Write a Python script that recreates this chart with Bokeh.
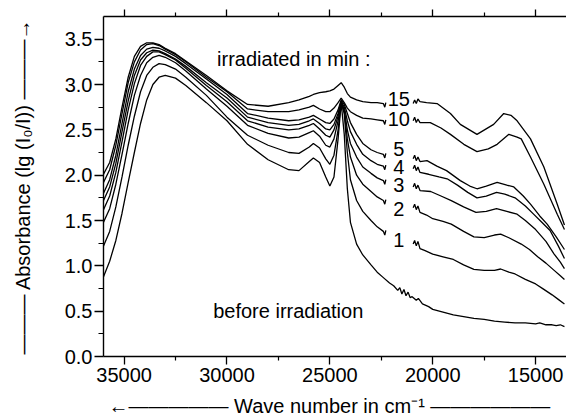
import math
from bokeh.plotting import figure
from bokeh.models import (Range1d, FixedTicker, LinearAxis, Label,
                          PrintfTickFormatter, BasicTickFormatter, CustomJSTickFormatter)
from bokeh.core.properties import value
from bokeh.embed import file_html
from bokeh.resources import INLINE

FONT = "Liberation Sans"

# ---------------- data ----------------
WN_LEFT = [36000, 35700, 35400, 35100, 34800, 34500, 34200, 33900, 33600, 33300,
           33000, 32500, 32000, 31000, 30000, 29000, 28000, 27000, 26500, 26000,
           25800, 25500, 25200, 25000, 24800, 24600, 24450, 24300, 24150, 24000,
           23700, 23400, 23000, 22700, 22400, 22330, 22280]

A1_LEFT = [1.22, 1.38, 1.65, 1.98, 2.33, 2.65, 2.92, 3.10, 3.19, 3.23,
           3.22, 3.17, 3.08, 2.88, 2.64, 2.44, 2.33, 2.25, 2.24, 2.31,
           2.35, 2.30, 2.18, 2.12, 2.22, 2.50, 2.80, 2.68, 2.25, 1.95,
           1.72, 1.60, 1.50, 1.43, 1.38, 1.34, 1.39]
A2_LEFT = [1.48, 1.63, 1.90, 2.23, 2.57, 2.88, 3.10, 3.24, 3.30, 3.32,
           3.30, 3.24, 3.15, 2.95, 2.76, 2.55, 2.46, 2.41, 2.42, 2.47,
           2.49, 2.43, 2.33, 2.31, 2.40, 2.60, 2.80, 2.70, 2.40, 2.20,
           2.00, 1.90, 1.82, 1.76, 1.72, 1.68, 1.73]
A3_LEFT = [1.62, 1.77, 2.03, 2.37, 2.72, 3.01, 3.21, 3.31, 3.36, 3.36,
           3.33, 3.27, 3.18, 2.99, 2.81, 2.60, 2.53, 2.50, 2.51, 2.55,
           2.57, 2.51, 2.44, 2.42, 2.50, 2.65, 2.81, 2.72, 2.50, 2.35,
           2.20, 2.09, 2.02, 1.97, 1.94, 1.90, 1.95]
A4_LEFT = [1.72, 1.87, 2.13, 2.48, 2.82, 3.10, 3.27, 3.35, 3.38, 3.37,
           3.34, 3.28, 3.20, 3.02, 2.85, 2.64, 2.58, 2.55, 2.56, 2.60,
           2.62, 2.57, 2.51, 2.50, 2.56, 2.68, 2.82, 2.75, 2.60, 2.48,
           2.34, 2.23, 2.16, 2.12, 2.10, 2.06, 2.11]
A5_LEFT = [1.80, 1.95, 2.22, 2.57, 2.92, 3.17, 3.32, 3.39, 3.41, 3.40,
           3.37, 3.31, 3.23, 3.06, 2.89, 2.68, 2.63, 2.60, 2.61, 2.64,
           2.66, 2.62, 2.58, 2.57, 2.62, 2.72, 2.83, 2.78, 2.68, 2.58,
           2.45, 2.35, 2.28, 2.25, 2.23, 2.19, 2.24]
A10_LEFT = [1.92, 2.06, 2.33, 2.68, 3.02, 3.25, 3.38, 3.44, 3.45, 3.43,
            3.39, 3.33, 3.25, 3.08, 2.92, 2.73, 2.70, 2.70, 2.72, 2.75,
            2.77, 2.73, 2.70, 2.70, 2.74, 2.80, 2.85, 2.80, 2.74, 2.70,
            2.66, 2.63, 2.62, 2.61, 2.60, 2.56, 2.61]
A15_LEFT = [2.01, 2.14, 2.40, 2.75, 3.08, 3.31, 3.42, 3.46, 3.46, 3.44,
            3.40, 3.34, 3.26, 3.10, 2.93, 2.78, 2.76, 2.80, 2.83, 2.87,
            2.89, 2.91, 2.92, 2.93, 2.95, 2.99, 3.02, 2.97, 2.90, 2.86,
            2.83, 2.81, 2.80, 2.80, 2.79, 2.75, 2.80]

# before irradiation (continuous)
WN0 = [36000, 35700, 35400, 35100, 34800, 34500, 34200, 33900, 33600, 33300,
       33000, 32500, 32000, 31000, 30000, 29000, 28000, 27000, 26500, 26000,
       25800, 25500, 25200, 25000, 24800, 24600, 24450, 24300, 24150, 24000,
       23700, 23400, 23000, 22700, 22400, 22100, 21900, 21700, 21600, 21500,
       21400, 21300, 21200, 21100, 21000, 20800, 20700, 20500, 20200, 20000,
       19500, 19000, 18500, 18000, 17500, 17000, 16500, 16000, 15500, 15000,
       14800, 14500, 14200, 14000, 13800, 13600]
A0 = [0.88, 1.05, 1.28, 1.58, 1.92, 2.25, 2.57, 2.83, 3.00, 3.08,
      3.10, 3.07, 2.99, 2.80, 2.60, 2.34, 2.17, 2.06, 2.05, 2.15,
      2.19, 2.14, 1.98, 1.88, 1.98, 2.40, 2.80, 2.45, 1.85, 1.48,
      1.24, 1.12, 1.01, 0.93, 0.87, 0.81, 0.78, 0.73, 0.76, 0.69,
      0.74, 0.67, 0.71, 0.65, 0.66, 0.62, 0.64, 0.58, 0.55, 0.52,
      0.49, 0.46, 0.44, 0.42, 0.41, 0.39, 0.38, 0.37, 0.37, 0.36,
      0.37, 0.35, 0.35, 0.34, 0.35, 0.33]

R1_WN = [20950, 20880, 20800, 20720, 20620, 20400, 20000, 19500, 19000, 18500, 18000,
         17500, 17000, 16700, 16300, 16000, 15500, 15000, 14600, 14200, 13900, 13600]
R1_A = [1.24, 1.28, 1.22, 1.27, 1.19, 1.17, 1.13, 1.10, 1.07, 1.01, 0.96,
        0.95, 0.95, 0.965, 0.93, 0.91, 0.85, 0.80, 0.74, 0.68, 0.63, 0.58]
R2_WN = [20950, 20880, 20800, 20720, 20620, 20300, 20000, 19500, 19100, 18500, 18000,
         17500, 17000, 16700, 16300, 15700, 15300, 14900, 14500, 14100, 13800, 13600]
R2_A = [1.64, 1.68, 1.62, 1.66, 1.59, 1.56, 1.52, 1.49, 1.46, 1.38, 1.32,
        1.31, 1.34, 1.35, 1.31, 1.24, 1.18, 1.10, 1.03, 0.95, 0.89, 0.85]
R3_WN = [20950, 20880, 20800, 20720, 20620, 20100, 19600, 19100, 18500, 17900,
         17400, 16900, 16400, 15900, 15500, 15000, 14500, 14100, 13800, 13600]
R3_A = [1.87, 1.91, 1.85, 1.89, 1.83, 1.82, 1.77, 1.72, 1.65, 1.59,
        1.60, 1.63, 1.60, 1.57, 1.50, 1.40, 1.27, 1.13, 1.04, 0.97]
R4_WN = [20950, 20880, 20800, 20720, 20620, 20200, 19700, 19300, 18800, 18300, 17850,
         17400, 16900, 16500, 16000, 15500, 15100, 14700, 14300, 13900, 13600]
R4_A = [2.07, 2.11, 2.05, 2.09, 2.03, 2.01, 1.98, 1.96, 1.89, 1.81, 1.75,
        1.77, 1.81, 1.79, 1.75, 1.66, 1.57, 1.48, 1.39, 1.22, 1.08]
R5_WN = [20950, 20880, 20800, 20720, 20620, 20280, 19800, 19330, 18660, 18200, 17850,
         17400, 16870, 16400, 16060, 15600, 15250, 14800, 14440, 14000, 13600]
R5_A = [2.18, 2.22, 2.16, 2.20, 2.15, 2.16, 2.10, 2.05, 1.94, 1.88, 1.85,
        1.88, 1.92, 1.89, 1.87, 1.77, 1.68, 1.55, 1.46, 1.32, 1.18]
R10_WN = [20950, 20880, 20800, 20720, 20620, 20120, 19600, 19140, 18490, 17850,
          17300, 16870, 16300, 15900, 15700, 15250, 14600, 13950, 13600]
R10_A = [2.60, 2.64, 2.58, 2.62, 2.58, 2.58, 2.52, 2.45, 2.34, 2.26,
         2.29, 2.34, 2.45, 2.42, 2.40, 2.20, 1.90, 1.57, 1.40]
R15_WN = [20950, 20880, 20800, 20720, 20620, 20300, 19790, 19140, 18660, 17850,
          17040, 16550, 16200, 15900, 15250, 14600, 13950, 13600]
R15_A = [2.79, 2.83, 2.79, 2.84, 2.81, 2.80, 2.79, 2.68, 2.56, 2.45,
         2.56, 2.68, 2.66, 2.60, 2.40, 2.09, 1.68, 1.45]

CURVE_LABELS = ["15", "10", "5", "4", "3", "2", "1"]
CURVE_LABEL_Y = [2.84, 2.62, 2.29, 2.09, 1.89, 1.63, 1.28]
CURVE_LABEL_X = 21650

X_MAJOR = [35000, 30000, 25000, 20000, 15000]
X_MINOR = [32500, 27500, 22500, 17500]
Y_MAJOR = [0.0, 0.5, 1.0, 1.5, 2.0, 2.5, 3.0, 3.5]
Y_MINOR = [0.25, 0.75, 1.25, 1.75, 2.25, 2.75, 3.25]

X_TITLE = "\u2190\u2014\u2014\u2014\u2014\u2014   Wave number in cm\u207b\u00b9 \u2014\u2014\u2014\u2014\u2014\u2014"
Y_TITLE = "\u2014\u2014\u2014 Absorbance (lg (I\u2080/I)) \u2014\u2014\u2014\u2192"

# ---------------- figure ----------------
p = figure(width=566, height=419, x_range=Range1d(36000, 13500), y_range=Range1d(0, 3.75),
           output_backend="svg", toolbar_location=None,
           min_border_left=103, min_border_right=0, min_border_top=16, min_border_bottom=63)
p.outline_line_color = None
p.xgrid.visible = False
p.ygrid.visible = False
p.background_fill_color = "white"
p.border_fill_color = "white"


def style_axis(ax, major_out, minor_out):
    ax.axis_line_color = "black"
    ax.axis_line_width = 1.4
    ax.major_tick_line_color = "black"
    ax.minor_tick_line_color = "black"
    ax.major_tick_line_width = 1.3
    ax.minor_tick_line_width = 1.2
    ax.major_tick_in = 0
    ax.minor_tick_in = 0
    ax.major_tick_out = major_out
    ax.minor_tick_out = minor_out
    ax.major_label_text_font = FONT
    ax.major_label_text_font_size = "20px"
    ax.major_label_text_color = "black"
    ax.axis_label_text_font = FONT
    ax.axis_label_text_font_size = "20px"
    ax.axis_label_text_font_style = "normal"
    ax.axis_label_text_color = "black"


xax = p.xaxis[0]
xax.ticker = FixedTicker(ticks=X_MAJOR, minor_ticks=X_MINOR)
xax.formatter = BasicTickFormatter(use_scientific=False)
style_axis(xax, 8, 4)
xax.major_label_standoff = 3
xax.major_label_text_line_height = 1.0
xax.axis_label = X_TITLE
xax.axis_label_text_line_height = 1.0
xax.axis_label_standoff = 10

yax = p.yaxis[0]
yax.ticker = FixedTicker(ticks=Y_MAJOR, minor_ticks=Y_MINOR)
yax.formatter = PrintfTickFormatter(format="%.1f")
style_axis(yax, 9, 5)
yax.major_label_standoff = 2
yax.axis_label = Y_TITLE
yax.axis_label_standoff = 28

top = LinearAxis(ticker=FixedTicker(ticks=X_MAJOR, minor_ticks=X_MINOR),
                 formatter=CustomJSTickFormatter(code="return ''"))
style_axis(top, 7, 4)
top.major_label_text_font_size = "1px"
top.major_label_standoff = 0
p.add_layout(top, "above")

# ---------------- curves ----------------
LW = 1.3
p.line(WN0, A0, line_color="black", line_width=LW)
for lx, ly, rx, ry in [
    (WN_LEFT, A1_LEFT, R1_WN, R1_A),
    (WN_LEFT, A2_LEFT, R2_WN, R2_A),
    (WN_LEFT, A3_LEFT, R3_WN, R3_A),
    (WN_LEFT, A4_LEFT, R4_WN, R4_A),
    (WN_LEFT, A5_LEFT, R5_WN, R5_A),
    (WN_LEFT, A10_LEFT, R10_WN, R10_A),
    (WN_LEFT, A15_LEFT, R15_WN, R15_A),
]:
    p.line(lx, ly, line_color="black", line_width=LW)
    p.line(rx, ry, line_color="black", line_width=LW)

p.text(x=[CURVE_LABEL_X] * len(CURVE_LABELS), y=CURVE_LABEL_Y, text=CURVE_LABELS,
       text_font=value(FONT), text_align="center", text_baseline="middle",
       text_font_size="20px", text_color="black")

# ---------------- annotations ----------------
p.add_layout(Label(x=30480, y=3.28, text="irradiated in min :", text_font=FONT,
                   text_font_size="20px", text_color="black", text_baseline="alphabetic"))
p.add_layout(Label(x=30670, y=0.505, text="before irradiation", text_font=FONT,
                   text_font_size="20px", text_color="black", text_baseline="alphabetic"))

open("out.html", "w").write(file_html(p, INLINE))
